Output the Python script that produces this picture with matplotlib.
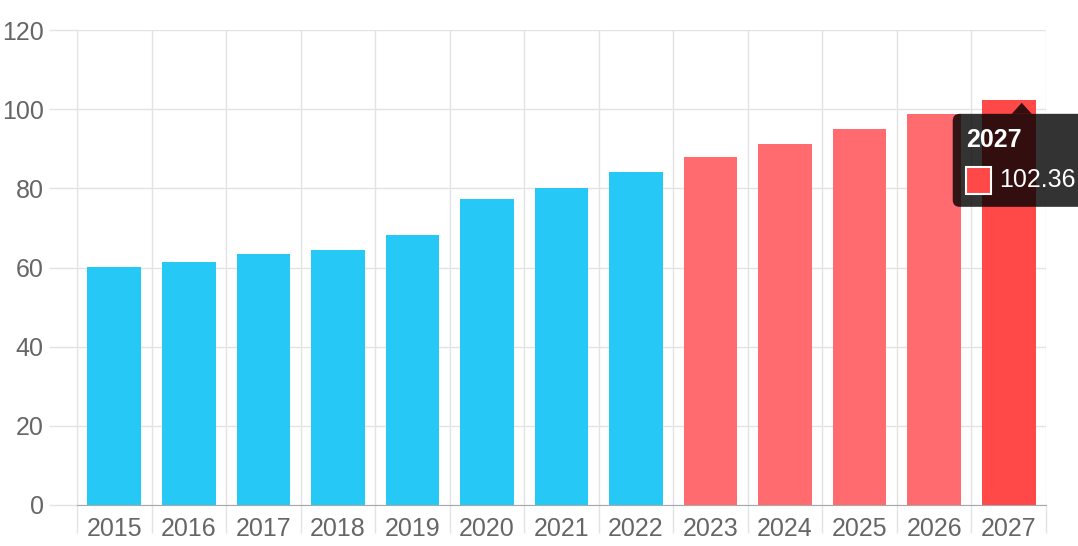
import numpy as np
import matplotlib
matplotlib.use("Agg")
import matplotlib.pyplot as plt
from matplotlib.patches import FancyBboxPatch, Polygon, Rectangle

# ── data ────────────────────────────────────────────────────────────
years = [2015, 2016, 2017, 2018, 2019, 2020, 2021,
         2022, 2023, 2024, 2025, 2026, 2027]
values = [60.2, 61.3, 63.3, 64.4, 68.2, 77.3, 80.2,
          84.1, 88.0, 91.3, 94.9, 98.8, 102.36]
first_forecast = 2023
hovered = 2027

BLUE = "#26c9f5"
RED = "#ff6b6f"
RED_HOVER = "#ff4848"
GRID = "#e3e3e3"
TXT = "#666666"

plt.rcParams["font.family"] = ["Liberation Sans", "DejaVu Sans"]

colors = []
for yr in years:
    if yr == hovered:
        colors.append(RED_HOVER)
    elif yr >= first_forecast:
        colors.append(RED)
    else:
        colors.append(BLUE)

W, H = 1078, 546
fig = plt.figure(figsize=(W / 100, H / 100), dpi=100)
ax = fig.add_axes([77 / W, (H - 505) / H, (1046 - 77) / W, (505 - 30) / H])

x = np.arange(len(years))
ax.bar(x, values, width=0.72, color=colors, zorder=3)

ax.set_xlim(-0.5, len(years) - 0.5)
ax.set_ylim(0, 120)

# y axis
ax.set_yticks(range(0, 121, 20))
ax.tick_params(axis="y", length=20, width=1, color=GRID, labelsize=18,
               labelcolor=TXT, pad=4)
ax.grid(axis="y", color=GRID, lw=1, zorder=0)

# x axis: labels at centres, grid lines at category borders
ax.set_xticks(x)
ax.set_xticklabels([str(y) for y in years])
ax.tick_params(axis="x", which="major", length=0, labelsize=18,
               labelcolor=TXT, pad=9)
ax.set_xticks(np.arange(-0.5, len(years)), minor=True)
ax.tick_params(axis="x", which="minor", length=20, width=1, color=GRID)
ax.grid(axis="x", which="minor", color=GRID, lw=1, zorder=0)

for s in ("top", "right"):
    ax.spines[s].set_visible(False)
ax.spines["left"].set_color(GRID)
ax.spines["bottom"].set_color("#a8a8a8")
ax.spines["bottom"].set_zorder(4)

# ── tooltip over the hovered bar ───────────────────────────────────
hi = years.index(hovered)
bx, by = ax.transData.transform((hi, values[hi]))
tip_x, tip_y = bx + 13, by - 3

box_top = tip_y - 11
box = FancyBboxPatch((tip_x - 69, box_top - 93), 160, 93,
                     boxstyle="round,pad=0,rounding_size=7",
                     transform=None, fc=(0, 0, 0, 0.8), ec="none", zorder=10)
fig.patches.append(box)
caret = Polygon([[tip_x, tip_y], [tip_x - 10, box_top], [tip_x + 10, box_top]],
                closed=True, transform=None, fc=(0, 0, 0, 0.8), ec="none", zorder=10)
fig.patches.append(caret)
sw = Rectangle((tip_x - 56, box_top - 80), 25, 27, transform=None,
               fc=RED_HOVER, ec="white", lw=1.5, zorder=11)
fig.patches.append(sw)
fig.text((tip_x - 56) / W, (box_top - 26) / H, str(hovered), color="white",
         fontsize=18, fontweight="bold", ha="left", va="center", zorder=12)
fig.text((tip_x - 23) / W, (box_top - 66) / H, f"{values[hi]:.2f}", color="white",
         fontsize=18, ha="left", va="center", zorder=12)

fig.savefig("out.png", dpi=100)
